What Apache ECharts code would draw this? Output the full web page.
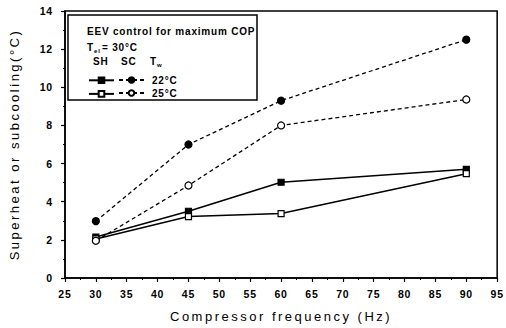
<!DOCTYPE html>
<html><head><meta charset="utf-8">
<script src="https://cdn.jsdelivr.net/npm/echarts@6/dist/echarts.min.js"></script>
<style>
html,body{margin:0;padding:0;background:#fff}
#c{width:506px;height:328px}
#c svg text{letter-spacing:0.8px}
#c svg text[style*="13px"]{letter-spacing:2.5px}
</style>
</head><body><div id="c"></div>
<script>
const freq = [30, 45, 60, 90];
const sh22 = [2.15, 3.5, 5.02, 5.7];
const sh25 = [2.05, 3.22, 3.38, 5.47];
const sc22 = [2.98, 7.0, 9.3, 12.5];
const sc25 = [1.95, 4.85, 8.0, 9.36];
const xTicks = [25, 95, 5];
const yTicks = [0, 14, 2];

const FONT = 'Liberation Sans, Arial, sans-serif';
const pair = (a) => freq.map((f, i) => [f, a[i]]);
const chart = echarts.init(document.getElementById('c'), null, { renderer: 'svg' });
const base = (name, data, dashed, symbol, filled) => ({
  name, type: 'line', data: pair(data), symbol, symbolSize: symbol === 'rect' ? 6 : 7,
  lineStyle: { color: '#000', width: dashed ? 1.3 : 1.5, type: dashed ? [4, 3] : 'solid' },
  itemStyle: { color: filled ? '#000' : '#fff', borderColor: '#000', borderWidth: 1.2 },
  z: 3, animation: false
});
const axisCommon = {
  nameLocation: 'middle',
  nameTextStyle: { fontFamily: FONT, fontSize: 13, color: '#000' },
  axisLine: { lineStyle: { color: '#000', width: 1.5 } },
  axisTick: { show: true, length: 4, lineStyle: { color: '#000', width: 1.2 } },
  minorTick: { show: true, splitNumber: 2, length: 2, lineStyle: { color: '#000' } },
  splitLine: { show: false }
};
chart.setOption({
  animation: false,
  grid: { left: 63, right: 7, top: 11, bottom: 48, show: true, borderColor: '#000', borderWidth: 1.5 },
  xAxis: Object.assign({}, axisCommon, {
    type: 'value', min: xTicks[0], max: xTicks[1], interval: xTicks[2],
    name: 'Compressor frequency (Hz)', nameGap: 32,
    axisLabel: { fontFamily: FONT, fontSize: 10.5, fontWeight: 'bold', color: '#000', margin: 10 }
  }),
  yAxis: Object.assign({}, axisCommon, {
    type: 'value', min: yTicks[0], max: yTicks[1], interval: yTicks[2],
    name: 'Superheat or subcooling(°C)', nameGap: 44,
    axisLabel: { fontFamily: FONT, fontSize: 10.5, fontWeight: 'bold', color: '#000', margin: 12 }
  }),
  legend: [
    { data: ['SH 22', 'SH 25'], orient: 'vertical', left: 88, top: 76.5, padding: 0, itemWidth: 25, itemHeight: 7,
      itemGap: 6, formatter: () => '', textStyle: { fontSize: 1 }, selectedMode: false },
    { data: ['SC 22', 'SC 25'], orient: 'vertical', left: 118, top: 73.5, padding: 0, itemWidth: 25, itemHeight: 7,
      itemGap: 0, formatter: (n) => n === 'SC 22' ? '22°C' : '25°C',
      textStyle: { fontFamily: FONT, fontSize: 10, lineHeight: 13, fontWeight: 'bold', color: '#000', padding: [0, 0, 0, 3] }, selectedMode: false }
  ],
  graphic: [
    { type: 'rect', shape: { x: 68, y: 15, width: 189, height: 85 }, style: { fill: '#fff', stroke: '#000', lineWidth: 1.5 }, z: 1 },
    { type: 'text', left: 87, top: 26, style: { text: 'EEV control for maximum COP', font: 'bold 10px ' + FONT, fill: '#000' }, z: 5 },
    { type: 'text', left: 87, top: 42, style: { text: 'T', font: 'bold 10px ' + FONT, fill: '#000' }, z: 5 },
    { type: 'text', left: 94, top: 48, style: { text: 'el', font: 'bold 6px ' + FONT, fill: '#000' }, z: 5 },
    { type: 'text', left: 102, top: 42, style: { text: '= 30°C', font: 'bold 10px ' + FONT, fill: '#000' }, z: 5 },
    { type: 'text', left: 93, top: 56, style: { text: 'SH', font: 'bold 10px ' + FONT, fill: '#000' }, z: 5 },
    { type: 'text', left: 121, top: 56, style: { text: 'SC', font: 'bold 10px ' + FONT, fill: '#000' }, z: 5 },
    { type: 'text', left: 150, top: 56, style: { text: 'T', font: 'bold 10px ' + FONT, fill: '#000' }, z: 5 },
    { type: 'text', left: 157, top: 62, style: { text: 'w', font: 'bold 6px ' + FONT, fill: '#000' }, z: 5 }
  ],
  series: [
    base('SH 22', sh22, false, 'rect', true),
    base('SH 25', sh25, false, 'rect', false),
    base('SC 22', sc22, true, 'circle', true),
    base('SC 25', sc25, true, 'circle', false)
  ]
});
</script></body></html>
